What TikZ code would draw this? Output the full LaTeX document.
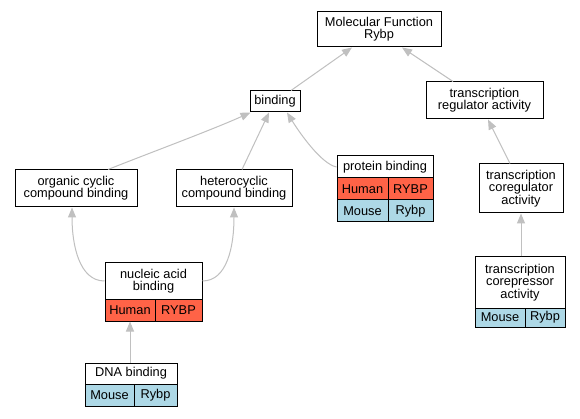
\documentclass[tikz,border=0pt]{standalone}
\usepackage{fontspec}
\setmainfont{Liberation Sans}
\usetikzlibrary{arrows.meta,calc}
\definecolor{humancol}{HTML}{FF6347}
\definecolor{mousecol}{HTML}{ADD8E6}
\definecolor{edgecol}{HTML}{C0C0C0}
\newcommand\gvfont{\fontsize{12.8}{12.3}\selectfont}
\begin{document}
\begin{tikzpicture}[x=1pt,y=-1pt,
  box/.style={draw=black, line width=1pt, fill=white, inner sep=0pt, align=center, font=\gvfont},
  human/.style={box, fill=humancol},
  mouse/.style={box, fill=mousecol},
  edge/.style={draw=edgecol, line width=1pt, -{Triangle[length=10pt,width=8pt]}}
]
\useasboundingbox (0,0) rectangle (580,419);
\fill[white] (0,0) rectangle (580,419);

% plain nodes
\node[box, minimum width=124, minimum height=35] (mf) at (379,29.5) {Molecular Function\\Rybp};
\node[box, minimum width=50, minimum height=21] (binding) at (275,101.5) {binding};
\node[box, minimum width=117, minimum height=37] (treg) at (484.5,100.5) {transcription\\regulator activity};
\node[box, minimum width=122, minimum height=37] (organic) at (76,188.5) {organic cyclic\\compound binding};
\node[box, minimum width=116, minimum height=37] (hetero) at (234,188.5) {heterocyclic\\compound binding};
\node[box, minimum width=84, minimum height=49] (coreg) at (521,188.5) {transcription\\coregulator\\activity};

% protein binding
\node[box, minimum width=96, minimum height=22] (prot) at (385,167) {protein binding};
\node[human, minimum width=51, minimum height=22] (prothum) at (362.5,189) {Human};
\node[human, minimum width=45, minimum height=22] (prothumg) at (410.5,189) {RYBP};
\node[mouse, minimum width=51, minimum height=22] (protmou) at (362.5,211) {Mouse};
\node[mouse, minimum width=45, minimum height=22] (protmoug) at (410.5,211) {Rybp};

% nucleic acid binding
\node[box, minimum width=97, minimum height=36] (nuc) at (153.5,281) {nucleic acid\\binding};
\node[human, minimum width=50, minimum height=22] (nuchum) at (130,310) {Human};
\node[human, minimum width=47, minimum height=22] (nuchumg) at (178.5,310) {RYBP};

% transcription corepressor activity
\node[box, minimum width=90, minimum height=51] (corep) at (520,282.5) {transcription\\corepressor\\activity};
\node[mouse, minimum width=50, minimum height=19] (corepmou) at (500,317.5) {Mouse};
\node[mouse, minimum width=40, minimum height=19] (corepmoug) at (545,317.5) {Rybp};

% DNA binding
\node[box, minimum width=92, minimum height=21] (dna) at (131,373.5) {DNA binding};
\node[mouse, minimum width=49, minimum height=22] (dnamou) at (109.5,395) {Mouse};
\node[mouse, minimum width=43, minimum height=22] (dnamoug) at (155.5,395) {Rybp};

% edges
\draw[edge] ([xshift=16]binding.north) -- ([xshift=-27]mf.south);
\draw[edge] ([xshift=-31.5]treg.north) -- ([xshift=23]mf.south);
\draw[edge] ([xshift=32]organic.north) .. controls +(40,-16) and +(-40,18) .. ([xshift=1]binding.south west);
\draw[edge] ([xshift=8]hetero.north) -- ([xshift=-6]binding.south);
\draw[edge] (prot.west) .. controls +(-15,-3) and +(13,21) .. ([xshift=12]binding.south);
\draw[edge] ([xshift=-11]coreg.north) -- ([xshift=3.5]treg.south);
\draw[edge] (corep.north -| coreg.south) -- (coreg.south);
\draw[edge] (nuc.west) .. controls +(-25,0) and +(0,38) .. ([xshift=-4]organic.south);
\draw[edge] (nuc.east) .. controls +(25,0) and +(0,38) .. (hetero.south);
\draw[edge] (dna.north -| nuchum.south) -- (nuchum.south);
\end{tikzpicture}
\end{document}
